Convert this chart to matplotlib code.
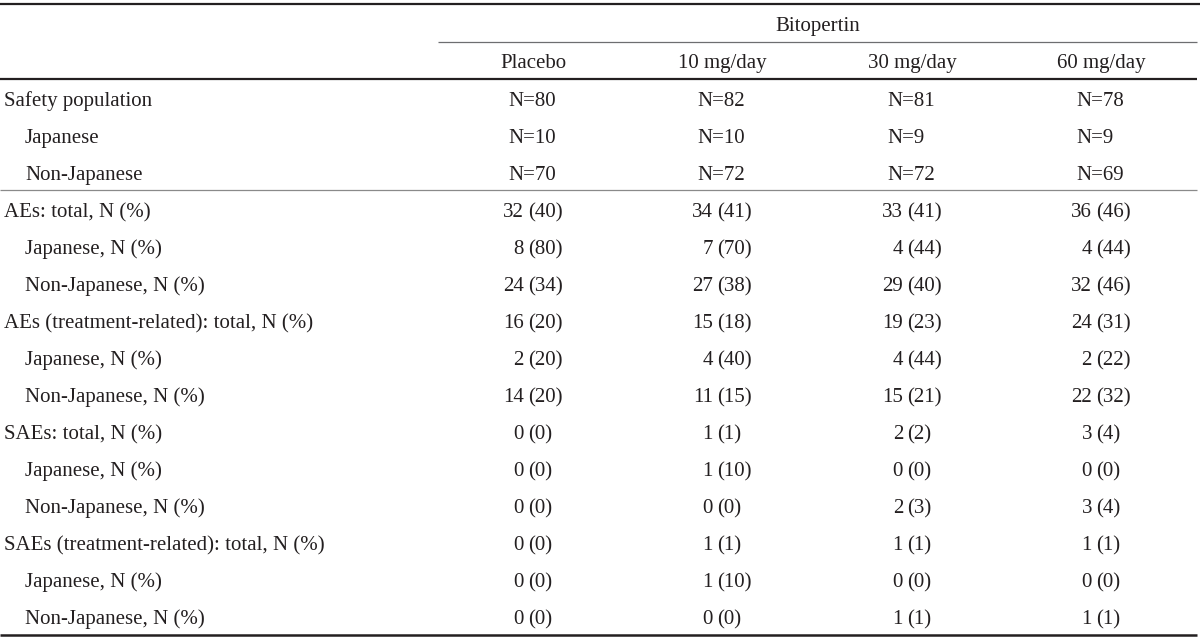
import matplotlib
matplotlib.use('Agg')
import matplotlib.pyplot as plt

# column headers
group_label = "Bitopertin"
columns = ["Placebo", "10 mg/day", "30 mg/day", "60 mg/day"]

# population rows
pop_labels = ["Safety population", "Japanese", "Non-Japanese"]
n_placebo = [80, 10, 70]
n_10 = [82, 10, 72]
n_30 = [81, 9, 72]
n_60 = [78, 9, 69]

# adverse event rows
ae_labels = ["AEs: total, N (%)", "Japanese, N (%)", "Non-Japanese, N (%)",
             "AEs (treatment-related): total, N (%)", "Japanese, N (%)", "Non-Japanese, N (%)",
             "SAEs: total, N (%)", "Japanese, N (%)", "Non-Japanese, N (%)",
             "SAEs (treatment-related): total, N (%)", "Japanese, N (%)", "Non-Japanese, N (%)"]
cnt_placebo = [32, 8, 24, 16, 2, 14, 0, 0, 0, 0, 0, 0]
pct_placebo = [40, 80, 34, 20, 20, 20, 0, 0, 0, 0, 0, 0]
cnt_10 = [34, 7, 27, 15, 4, 11, 1, 1, 0, 1, 1, 0]
pct_10 = [41, 70, 38, 18, 40, 15, 1, 10, 0, 1, 10, 0]
cnt_30 = [33, 4, 29, 19, 4, 15, 2, 0, 2, 1, 0, 1]
pct_30 = [41, 44, 40, 23, 44, 21, 2, 0, 3, 1, 0, 1]
cnt_60 = [36, 4, 32, 24, 2, 22, 3, 0, 3, 1, 0, 1]
pct_60 = [46, 44, 46, 31, 22, 32, 4, 0, 4, 1, 0, 1]

plt.rcParams['font.family'] = ['Liberation Serif', 'DejaVu Serif']
FS = 15
TXT = '#231f20'

fig = plt.figure(figsize=(12, 6.4), dpi=100)
ax = fig.add_axes([0, 0, 1, 1])
ax.set_xlim(0, 1200)
ax.set_ylim(640, 0)
ax.axis('off')

col_x = [533, 722, 912, 1101]
y0, step = 99, 37.0
base = 7  # baseline sits below the row centre

def row_y(i):
    return y0 + i * step + base

def cell(x, y, s, ha):
    ax.text(x, y, s, fontsize=FS, color=TXT, ha=ha, va='baseline')

# rules
ax.plot([0, 1200], [4, 4], color='#231f20', lw=1.6, solid_capstyle='butt')
ax.plot([438, 1197], [42, 42], color='#6d6e70', lw=0.9, solid_capstyle='butt')
ax.plot([0, 1197], [79, 79], color='#231f20', lw=1.6, solid_capstyle='butt')
ax.plot([0, 1197], [190, 190], color='#8a8a8a', lw=0.9, solid_capstyle='butt')
ax.plot([0, 1197], [635, 635], color='#231f20', lw=1.8, solid_capstyle='butt')

# headers
cell((438 + 1197) / 2, 24 + base, group_label, 'center')
for x, c in zip(col_x, columns):
    cell(x, 61 + base, c, 'center')

# population block
n_cols = [n_placebo, n_10, n_30, n_60]
for i, lab in enumerate(pop_labels):
    y = row_y(i)
    cell(25 if i else 4, y, lab, 'left')
    for x, vals in zip(col_x, n_cols):
        cell(x - 25, y, "N=%d" % vals[i], 'left')

# adverse event block, aligned on the opening parenthesis
cnt_cols = [cnt_placebo, cnt_10, cnt_30, cnt_60]
pct_cols = [pct_placebo, pct_10, pct_30, pct_60]
for j, lab in enumerate(ae_labels):
    y = row_y(j + 3)
    cell(4 if j % 3 == 0 else 25, y, lab, 'left')
    for x, cnt, pct in zip(col_x, cnt_cols, pct_cols):
        px = x - 4.5
        cell(px - 4.5, y, str(cnt[j]), 'right')
        cell(px, y, "(%d)" % pct[j], 'left')

fig.savefig('out.png', dpi=100, facecolor='white')
